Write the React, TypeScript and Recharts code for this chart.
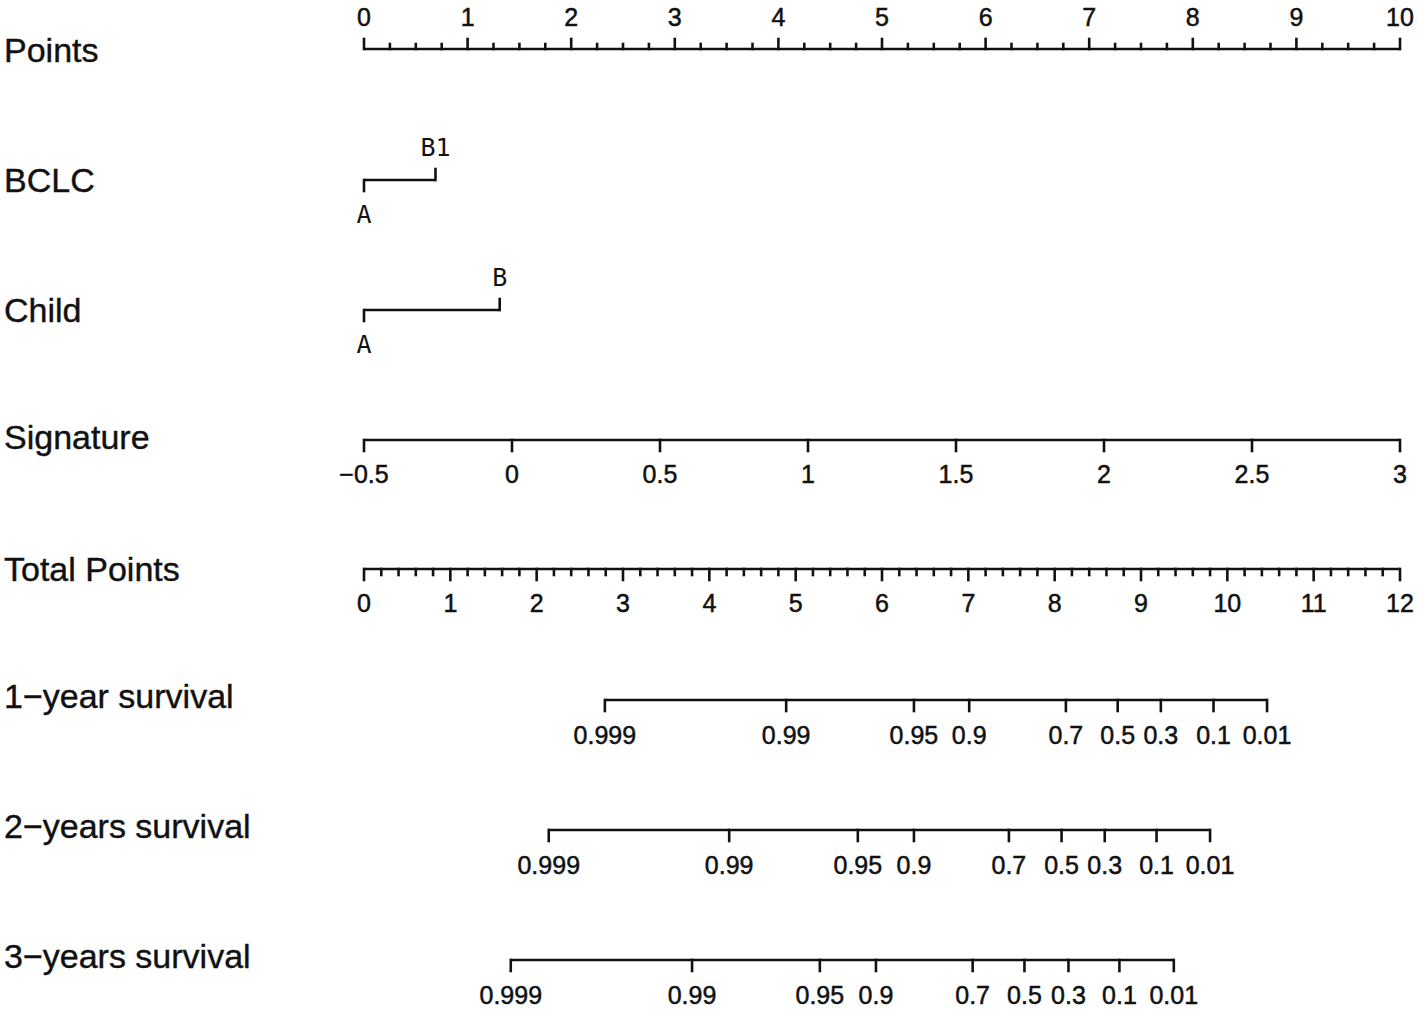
import React from 'react';
import { ScatterChart, Scatter, XAxis, YAxis } from 'recharts';

// Points scale (top axis)
const pointsTicks = [0, 1, 2, 3, 4, 5, 6, 7, 8, 9, 10];
const pointsMinorStep = 0.25;

// categorical predictors, value in points
const bclcLevels = ['A', 'B1'];
const bclcPoints = [0, 0.69];
const childLevels = ['A', 'B'];
const childPoints = [0, 1.31];

// continuous predictor
const signatureTicks = [-0.5, 0, 0.5, 1, 1.5, 2, 2.5, 3];

// total points scale
const totalTicks = [0, 1, 2, 3, 4, 5, 6, 7, 8, 9, 10, 11, 12];
const totalMinorStep = 0.2;

// survival probabilities, position read as total points
const survivalLabels = ['0.999', '0.99', '0.95', '0.9', '0.7', '0.5', '0.3', '0.1', '0.01'];
const survival1y = [2.79, 4.89, 6.37, 7.01, 8.13, 8.73, 9.23, 9.84, 10.46];
const survival2y = [2.14, 4.23, 5.72, 6.37, 7.47, 8.08, 8.58, 9.18, 9.80];
const survival3y = [1.70, 3.80, 5.28, 5.93, 7.05, 7.65, 8.16, 8.75, 9.38];

const W = 1418;
const H = 1010;
const INK = '#111';
const SANS = '"Liberation Sans", Arial, Helvetica, sans-serif';
const MONO = '"DejaVu Sans Mono", monospace';

const sigToPts = (s: number) => ((s + 0.5) / 3.5) * 10;
const totToPts = (t: number) => (t / 12) * 10;

type Mark = {
  x: number;
  y: number;
  dir: number; // 1 = tick down, -1 = tick up
  len: number;
  label?: string;
  labelDy?: number;
  mono?: boolean;
  rowLabel?: string;
  rowLabelDy?: number;
};

function pointsRow(y: number): Mark[] {
  const out: Mark[] = [];
  const n = Math.round(10 / pointsMinorStep);
  for (let i = 0; i <= n; i++) {
    const v = i * pointsMinorStep;
    const major = pointsTicks.includes(v);
    out.push({ x: v, y, dir: -1, len: major ? 10 : 5, label: major ? String(v) : undefined, labelDy: -23 });
  }
  out[0].rowLabel = 'Points';
  out[0].rowLabelDy = 13;
  return out;
}

function levelRow(name: string, y: number, levels: string[], pts: number[]): Mark[] {
  return levels.map((lv, i) => ({
    x: pts[i],
    y,
    dir: i % 2 === 0 ? 1 : -1,
    len: 11,
    label: lv,
    labelDy: i % 2 === 0 ? 43 : -24,
    mono: true,
    rowLabel: i === 0 ? name : undefined,
    rowLabelDy: 12,
  }));
}

function signatureRow(y: number): Mark[] {
  return signatureTicks.map((s, i) => ({
    x: sigToPts(s),
    y,
    dir: 1,
    len: 11,
    label: String(s).replace('-', '\u2212'),
    labelDy: 43,
    rowLabel: i === 0 ? 'Signature' : undefined,
    rowLabelDy: 9,
  }));
}

function totalRow(y: number): Mark[] {
  const out: Mark[] = [];
  const n = Math.round(12 / totalMinorStep);
  for (let i = 0; i <= n; i++) {
    const v = Math.round(i * totalMinorStep * 10) / 10;
    const major = totalTicks.includes(v);
    out.push({ x: totToPts(v), y, dir: 1, len: major ? 11 : 6, label: major ? String(v) : undefined, labelDy: 43 });
  }
  out[0].rowLabel = 'Total Points';
  out[0].rowLabelDy = 12;
  return out;
}

function survivalRow(name: string, y: number, pos: number[]): Mark[] {
  return pos.map((t, i) => ({
    x: totToPts(t),
    y,
    dir: 1,
    len: 11,
    label: survivalLabels[i],
    labelDy: 44,
    rowLabel: i === 0 ? name : undefined,
    rowLabelDy: 8,
  }));
}

const rows: Mark[][] = [
  pointsRow(49),
  levelRow('BCLC', 180, bclcLevels, bclcPoints),
  levelRow('Child', 310, childLevels, childPoints),
  signatureRow(440),
  totalRow(569),
  survivalRow('1\u2212year survival', 700, survival1y),
  survivalRow('2\u2212years survival', 830, survival2y),
  survivalRow('3\u2212years survival', 960, survival3y),
];

function TickMark(props: any) {
  const { cx, cy, payload } = props;
  if (cx == null || cy == null) return null;
  const p = payload as Mark;
  return (
    <g>
      <line x1={cx} y1={cy} x2={cx} y2={cy + p.dir * p.len} stroke={INK} strokeWidth={2.6} strokeLinecap="square" />
      {p.label && (
        <text
          x={cx}
          y={cy + (p.labelDy || 0)}
          textAnchor="middle"
          fontFamily={p.mono ? MONO : SANS}
          fontSize={25}
          fill={INK}
          stroke={p.mono ? 'none' : INK}
          strokeWidth={0.5}
        >
          {p.label}
        </text>
      )}
      {p.rowLabel && (
        <text x={4} y={cy + (p.rowLabelDy || 0)} fontFamily={SANS} fontSize={34} fill={INK} stroke={INK} strokeWidth={0.4}>
          {p.rowLabel}
        </text>
      )}
    </g>
  );
}

export default function App() {
  return (
    <div style={{ position: 'absolute', left: 0, top: 0, width: W, height: H, background: '#fff' }}>
      <ScatterChart width={W} height={H} margin={{ top: 0, right: 18, bottom: 0, left: 364 }}>
        <XAxis type="number" dataKey="x" domain={[0, 10]} hide />
        <YAxis type="number" dataKey="y" domain={[0, H]} reversed hide />
        {rows.map((data, i) => (
          <Scatter
            key={i}
            data={data}
            line={{ stroke: INK, strokeWidth: 2.6 }}
            shape={<TickMark />}
            isAnimationActive={false}
          />
        ))}
      </ScatterChart>
    </div>
  );
}
